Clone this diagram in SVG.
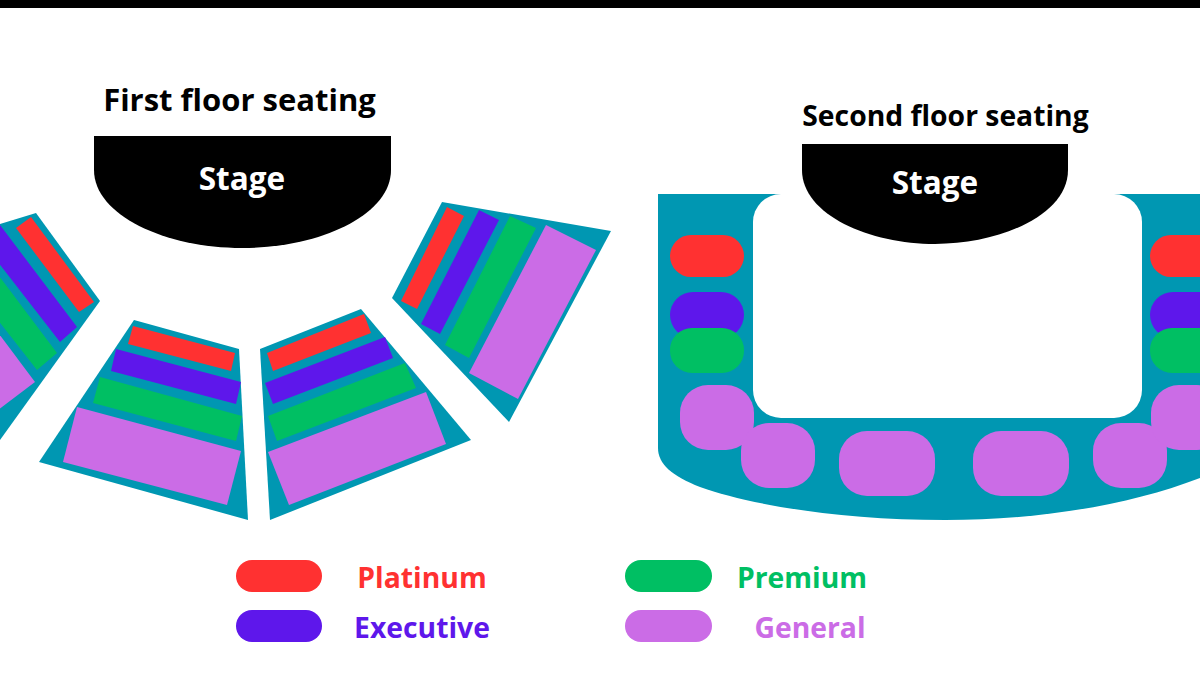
<svg xmlns="http://www.w3.org/2000/svg" width="1200" height="673" viewBox="0 0 1200 673">
<style>
text{font-family:"Open Sans","Liberation Sans",sans-serif;font-weight:700}
.t{fill:#0097b2}.r{fill:#ff3131}.b{fill:#5e17eb}.g{fill:#00bf63}.p{fill:#cb6ce6}
.h{font-size:31px;fill:#000;text-anchor:middle}
.s{font-size:31.5px;fill:#fff;text-anchor:middle}
.l{font-size:28.3px;text-anchor:middle}
</style>
<rect width="1200" height="673" fill="#fff"/>
<rect width="1200" height="8" fill="#000"/>
<text class="h" x="239.500" y="111">First floor seating</text>
<text class="h" x="945.500" y="126" style="font-size:28.300px">Second floor seating</text>
<g id="first-floor">
<path d="M94 136H391V170C391 215 320 248 242 248C165 248 94 215 94 170Z"/>
<text class="s" x="242" y="190">Stage</text>
<g id="section-far-left">
<polygon class="t" points="36,213 100,301 0,440 -10,440 -10,227"/>
<polygon class="r" points="31,217 94,302 79,312 16,228"/>
<polygon class="b" points="0,225 77,327 60,342 -10,252 -10,212"/>
<polygon class="g" points="-10,264 57,353 37,370 -10,310"/>
<polygon class="p" points="-10,322 35,382 -10,416"/>
</g>
<g id="section-center-left">
<polygon class="t" points="134,320 239,349 248,520 39,462"/>
<polygon class="r" points="133,326 235,353 231,371 128,344"/>
<polygon class="b" points="116,349 241,382 236,404 111,371"/>
<polygon class="g" points="100,377 242,416 236,441 93,403"/>
<polygon class="p" points="77,407 241,451 227,505 63,462"/>
</g>
<g id="section-center-right">
<polygon class="t" points="361,309 471,440 270,520 260,349"/>
<polygon class="r" points="364,314 371,333 273,371 267,353"/>
<polygon class="b" points="385,337 393,358 273,404 265,383"/>
<polygon class="g" points="405,363 416,388 277,441 268,416"/>
<polygon class="p" points="426,392 446,444 289,505 268,452"/>
</g>
<g id="section-far-right">
<polygon class="t" points="442,202 611,231 509,422 392,298"/>
<polygon class="r" points="447,207 464,216 417,309 401,301"/>
<polygon class="b" points="479,210 499,220 440,334 421,324"/>
<polygon class="g" points="510,216 536,228 469,358 445,345"/>
<polygon class="p" points="546,225 596,250 518,399 469,373"/>
</g>
</g>
<g id="second-floor">
<path class="t" d="M658 194H1200V478C1130 505 1040 520 945 520C840 520 750 505 700 487C672 476 658 464 658 448Z"/>
<rect x="753" y="194" width="389" height="224" rx="28" fill="#fff"/>
<path d="M802 144H1068V170C1068 215 1000 244 935 244C870 244 802 215 802 170Z"/>
<text class="s" x="935" y="194">Stage</text>
<rect class="r" x="670" y="235" width="74" height="42" rx="21"/>
<rect class="b" x="670" y="292" width="74" height="46" rx="23"/>
<rect class="g" x="670" y="328" width="74" height="45" rx="22"/>
<rect class="p" x="680" y="385" width="74" height="65" rx="28"/>
<rect class="p" x="741" y="423" width="74" height="65" rx="28"/>
<rect class="p" x="839" y="431" width="96" height="65" rx="28"/>
<rect class="p" x="973" y="431" width="96" height="65" rx="28"/>
<rect class="p" x="1093" y="423" width="74" height="65" rx="28"/>
<rect class="p" x="1151" y="385" width="74" height="65" rx="28"/>
<rect class="r" x="1150" y="235" width="74" height="42" rx="21"/>
<rect class="b" x="1150" y="292" width="74" height="46" rx="23"/>
<rect class="g" x="1150" y="328" width="74" height="45" rx="22"/>
</g>
<g id="legend">
<rect class="r" x="236" y="560" width="86" height="32" rx="16"/>
<rect class="b" x="236" y="610" width="86" height="32" rx="16"/>
<rect class="g" x="625" y="560" width="87" height="32" rx="16"/>
<rect class="p" x="625" y="610" width="87" height="32" rx="16"/>
<text class="l r" x="422" y="588">Platinum</text>
<text class="l b" x="422" y="638">Executive</text>
<text class="l g" x="802" y="588">Premium</text>
<text class="l p" x="810" y="638">General</text>
</g>
</svg>
